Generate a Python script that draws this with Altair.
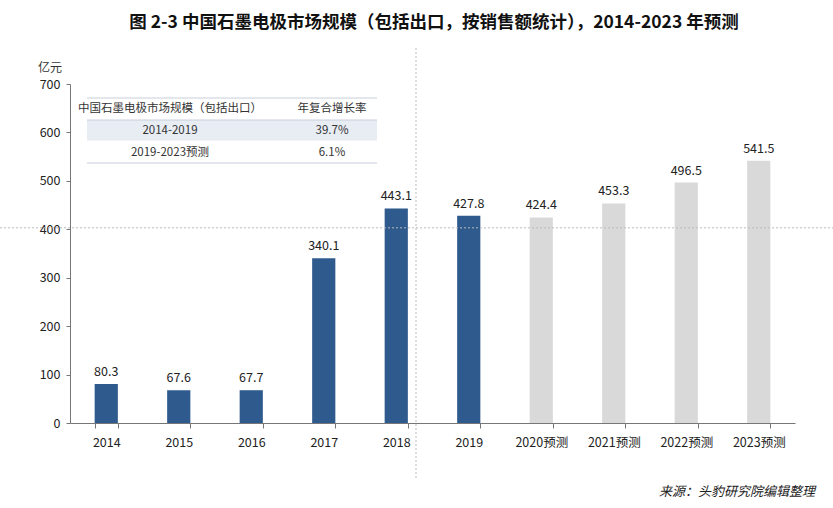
import altair as alt
import pandas as pd

categories = ["2014", "2015", "2016", "2017", "2018", "2019",
              "2020预测", "2021预测", "2022预测", "2023预测"]
values = [80.3, 67.6, 67.7, 340.1, 443.1, 427.8, 424.4, 453.3, 496.5, 541.5]
kinds = ["实际"] * 6 + ["预测"] * 4

table_header = ["中国石墨电极市场规模（包括出口）", "年复合增长率"]
table_periods = ["2014-2019", "2019-2023预测"]
table_rates = ["39.7%", "6.1%"]

title_text = "图 2-3 中国石墨电极市场规模（包括出口，按销售额统计），2014-2023 年预测"
unit_text = "亿元"
source_text = "来源：头豹研究院编辑整理"

df = pd.DataFrame({"cat": categories, "val": values, "kind": kinds,
                   "label": [f"{v:.1f}" for v in values]})

FONT = "Noto Sans CJK SC"
W, H = 725, 339

x = alt.X("cat:N", sort=categories, title=None,
          scale=alt.Scale(paddingInner=0.68, paddingOuter=0.34),
          axis=alt.Axis(labelAngle=0, labelFontSize=12.5, labelColor="#222",
                        labelFont=FONT, labelPadding=8, tickBand="extent",
                        tickColor="#777", tickSize=5, domainColor="#777"))
y = alt.Y("val:Q", title=None,
          scale=alt.Scale(domain=[0, 700]),
          axis=alt.Axis(values=[0, 100, 200, 300, 400, 500, 600, 700],
                        labelFontSize=12.5, labelColor="#222", labelFont=FONT,
                        grid=False, tickColor="#777", tickSize=4,
                        domainColor="#777", labelPadding=6))

base = alt.Chart(df)
bars = base.mark_bar().encode(
    x=x, y=y,
    color=alt.Color("kind:N", scale=alt.Scale(domain=["实际", "预测"],
                    range=["#2e5a8e", "#d9d9d9"]), legend=None))
labels = base.mark_text(dy=-12, fontSize=12.5, font=FONT, color="#222").encode(
    x=alt.X("cat:N", sort=categories), y="val:Q", text="label:N")

hline = alt.Chart(pd.DataFrame({"v": [403]})).mark_rule(
    color="#bbbbbb", strokeDash=[2, 2], strokeWidth=1).encode(
    y="v:Q", x=alt.value(-70), x2=alt.value(763))
vline = alt.Chart(pd.DataFrame({"v": [0]})).mark_rule(
    color="#bbbbbb", strokeDash=[2, 2], strokeWidth=1).encode(
    x=alt.value(346), y=alt.value(-36), y2=alt.value(56 + H))

# table
tb_left, tb_right = 17, 307
row_bg = alt.Chart(pd.DataFrame({"a": [0]})).mark_rect(color="#e8ecf3").encode(
    x=alt.value(tb_left), x2=alt.value(tb_right), y=alt.value(36), y2=alt.value(57))
lines = [alt.Chart(pd.DataFrame({"a": [0]})).mark_rule(color="#c8d0dc", strokeWidth=1).encode(
    x=alt.value(tb_left), x2=alt.value(tb_right), y=alt.value(yy)) for yy in (14, 36, 79)]
lines2 = alt.Chart(pd.DataFrame({"a": [0]})).mark_rule(color="#ffffff", strokeWidth=1).encode(
    x=alt.value(tb_left), x2=alt.value(tb_right), y=alt.value(57))

tbl_txt = []
for t, xx in zip(table_header, (100, 262)):
    tbl_txt.append(alt.Chart(pd.DataFrame({"t": [t]})).mark_text(
        fontSize=11.5, font=FONT, color="#333").encode(
        text="t:N", x=alt.value(xx), y=alt.value(25)))
for r, (p, rt) in enumerate(zip(table_periods, table_rates)):
    yy = 47 + r * 22
    tbl_txt.append(alt.Chart(pd.DataFrame({"t": [p]})).mark_text(
        fontSize=11.5, font=FONT, color="#333").encode(
        text="t:N", x=alt.value(100), y=alt.value(yy)))
    tbl_txt.append(alt.Chart(pd.DataFrame({"t": [rt]})).mark_text(
        fontSize=11.5, font=FONT, color="#333").encode(
        text="t:N", x=alt.value(262), y=alt.value(yy)))

title = alt.Chart(pd.DataFrame({"t": [title_text]})).mark_text(
    fontSize=17.5, font=FONT, fontWeight="bold", color="#111").encode(
    text="t:N", x=alt.value(364), y=alt.value(-61))
unit = alt.Chart(pd.DataFrame({"t": [unit_text]})).mark_text(
    fontSize=12, font=FONT, color="#333").encode(
    text="t:N", x=alt.value(-20), y=alt.value(-16))
source = alt.Chart(pd.DataFrame({"t": [source_text]})).mark_text(
    fontSize=13, font=FONT, color="#222", align="right", fontStyle="italic").encode(
    text="t:N", x=alt.value(745), y=alt.value(69 + H))

chart = alt.layer(row_bg, *lines, lines2, *tbl_txt, bars, labels, hline, vline,
                  title, unit, source).properties(
    width=W, height=H,
    autosize="none",
    padding={"left": 70, "top": 84, "right": 38, "bottom": 85},
    background="white",
).configure_view(stroke=None)

chart.save("out.html", embed_options={"renderer": "svg", "actions": False})
